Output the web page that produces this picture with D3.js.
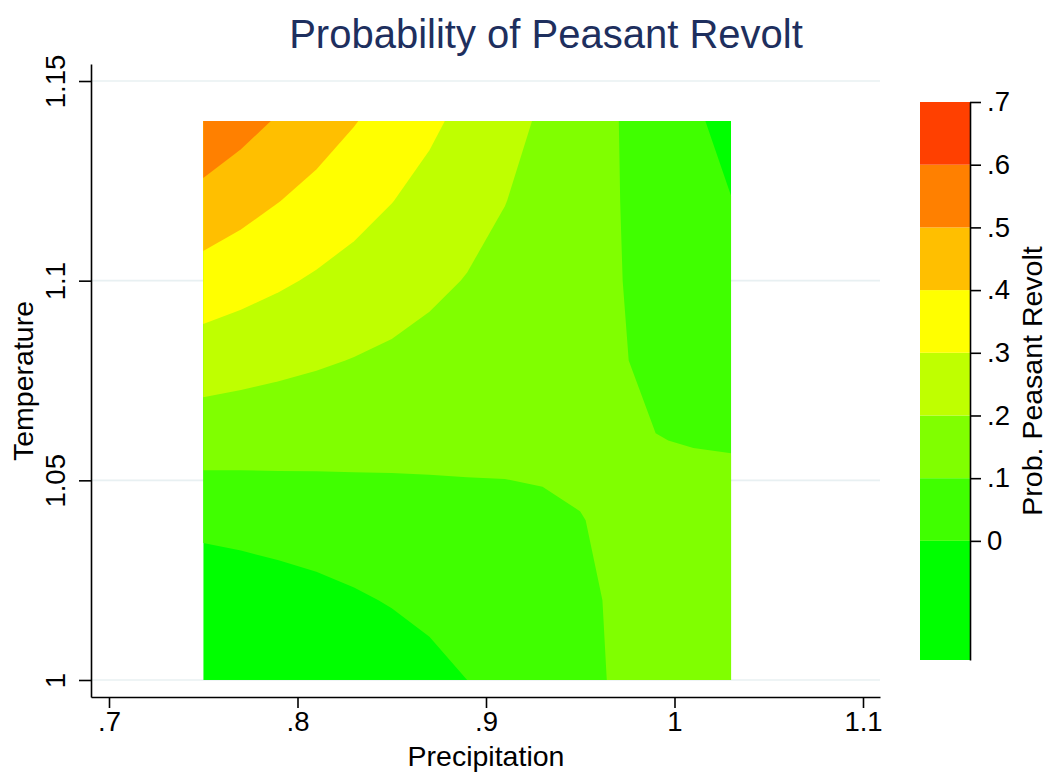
<!DOCTYPE html>
<html>
<head>
<meta charset="utf-8">
<script src="https://cdn.jsdelivr.net/npm/d3@7"></script>
<style>
  body { margin: 0; background: #fff; }
  text { font-family: "Liberation Sans", Arial, Helvetica, sans-serif; }
</style>
</head>
<body>
<div id="content"></div>
<script>
// grid the surface was evaluated on
const precip = [0.75, 0.77, 0.79, 0.81, 0.83, 0.85, 0.87, 0.89, 0.91, 0.93, 0.95, 0.97, 0.99, 1.01, 1.03];
const temp = [1.00, 1.02, 1.04, 1.06, 1.08, 1.10, 1.12, 1.14];

// predicted probability, one row per temperature (bottom row first)
const z100 = [-0.188, -0.161, -0.134, -0.107, -0.080, -0.053, -0.027, 0.000, 0.027, 0.054, 0.081, 0.108, 0.135, 0.161, 0.188];
const z102 = [-0.078, -0.062, -0.045, -0.028, -0.011, 0.006, 0.023, 0.039, 0.056, 0.073, 0.090, 0.107, 0.124, 0.140, 0.157];
const z104 = [0.031, 0.038, 0.045, 0.051, 0.058, 0.065, 0.072, 0.079, 0.085, 0.092, 0.099, 0.106, 0.112, 0.119, 0.126];
const z106 = [0.141, 0.137, 0.134, 0.131, 0.128, 0.124, 0.121, 0.118, 0.114, 0.111, 0.108, 0.105, 0.101, 0.098, 0.095];
const z108 = [0.250, 0.237, 0.223, 0.210, 0.197, 0.184, 0.170, 0.157, 0.144, 0.130, 0.117, 0.104, 0.090, 0.077, 0.064];
const z110 = [0.359, 0.336, 0.313, 0.289, 0.266, 0.243, 0.219, 0.196, 0.173, 0.149, 0.126, 0.103, 0.079, 0.056, 0.033];
const z112 = [0.469, 0.436, 0.402, 0.369, 0.335, 0.302, 0.269, 0.235, 0.202, 0.168, 0.135, 0.102, 0.068, 0.035, 0.002];
const z114 = [0.578, 0.535, 0.491, 0.448, 0.405, 0.361, 0.318, 0.274, 0.231, 0.188, 0.144, 0.101, 0.057, 0.014, -0.030];

const levels = [0, 0.1, 0.2, 0.3, 0.4, 0.5, 0.6, 0.7];
const bandColors = ["#00ff00", "#40ff00", "#80ff00", "#bfff00", "#ffff00", "#ffbf00", "#ff8000", "#ff4000"];
const zMin = -0.19;

const xTicks = [0.7, 0.8, 0.9, 1, 1.1];
const yTicks = [1, 1.05, 1.1, 1.15];

const width = 1049, height = 773;

function fmt(d) {
    let s = String(+d.toFixed(2));
    return s.replace(/^0\./, ".").replace(/^-0\./, "-.");
}

const svg = d3.select("#content").append("svg")
    .attr("width", width)
    .attr("height", height);

const x = d3.scaleLinear().domain([0.69045, 1.10902]).range([91, 880]);
const y = d3.scaleLinear().domain([0.99574, 1.15426]).range([697, 64]);

// light gridlines
svg.append("g")
    .selectAll("line")
    .data(yTicks)
    .enter()
    .append("line")
    .attr("x1", 91)
    .attr("x2", 880)
    .attr("y1", d => y(d))
    .attr("y2", d => y(d))
    .attr("stroke", "#e8f0f2")
    .attr("stroke-width", 1.6);

// contour fill
const zRows = [z100, z102, z104, z106, z108, z110, z112, z114];
const nx = precip.length, ny = temp.length;
const values = zRows.flat();
const contours = d3.contours()
    .size([nx, ny])
    .thresholds(levels.slice(0, -1))(values);

const gx = d3.scaleLinear().domain([0.5, nx - 0.5]).range([x(precip[0]), x(precip[nx - 1])]);
const gy = d3.scaleLinear().domain([0.5, ny - 0.5]).range([y(temp[0]), y(temp[ny - 1])]);
const proj = d3.geoTransform({
    point: function (px, py) { this.stream.point(gx(px), gy(py)); }
});
const path = d3.geoPath(proj);

const x0 = x(precip[0]), x1 = x(precip[nx - 1]);
const y0 = y(temp[ny - 1]), y1 = y(temp[0]);

svg.append("clipPath").attr("id", "clip")
    .append("rect")
    .attr("x", x0).attr("y", y0)
    .attr("width", x1 - x0).attr("height", y1 - y0);

const surf = svg.append("g").attr("clip-path", "url(#clip)");
surf.append("rect")
    .attr("x", x0).attr("y", y0)
    .attr("width", x1 - x0).attr("height", y1 - y0)
    .attr("fill", bandColors[0]);
surf.selectAll("path")
    .data(contours)
    .enter()
    .append("path")
    .attr("d", path)
    .attr("fill", (d, i) => bandColors[i + 1]);

// axes
const xAxis = d3.axisBottom(x).tickValues(xTicks).tickSize(11).tickSizeOuter(0).tickFormat(fmt);
const yAxis = d3.axisLeft(y).tickValues(yTicks).tickSize(12).tickSizeOuter(0).tickFormat(fmt);

const gxAxis = svg.append("g")
    .attr("transform", "translate(0,697)")
    .call(xAxis);
gxAxis.selectAll("text")
    .attr("y", 13)
    .attr("dy", "0.75em");

const gyAxis = svg.append("g")
    .attr("transform", "translate(91,0)")
    .call(yAxis);
gyAxis.selectAll("text")
    .attr("transform", "rotate(-90)")
    .attr("x", 0)
    .attr("y", -26)
    .attr("dy", 0)
    .style("text-anchor", "middle");

[gxAxis, gyAxis].forEach(g => {
    g.selectAll("path, line").attr("stroke", "#000").attr("stroke-width", 1.6);
    g.selectAll("text").attr("fill", "#000").style("font-size", "27.5px").style("font-family", "Liberation Sans, Arial, sans-serif");
});

// titles
svg.append("text")
    .attr("x", 546)
    .attr("y", 48)
    .style("text-anchor", "middle")
    .style("font-size", "40px")
    .attr("fill", "#1e2f5e")
    .text("Probability of Peasant Revolt");

svg.append("text")
    .attr("x", 486)
    .attr("y", 766)
    .style("text-anchor", "middle")
    .style("font-size", "28.5px")
    .text("Precipitation");

svg.append("text")
    .attr("transform", "translate(33,381) rotate(-90)")
    .style("text-anchor", "middle")
    .style("font-size", "28.5px")
    .text("Temperature");

// colour key
const cb = d3.scaleLinear().domain([zMin, 0.7]).range([660, 102]);
const bandLo = [zMin].concat(levels.slice(0, -1));
const key = svg.append("g");
key.selectAll("rect")
    .data(bandLo)
    .enter()
    .append("rect")
    .attr("x", 920)
    .attr("width", 50)
    .attr("y", (d, i) => cb(levels[i]))
    .attr("height", (d, i) => cb(d) - cb(levels[i]))
    .attr("fill", (d, i) => bandColors[i]);

const cAxis = d3.axisRight(cb).tickValues(levels).tickSize(11).tickSizeOuter(0).tickFormat(fmt);
const gcAxis = svg.append("g")
    .attr("transform", "translate(970,0)")
    .call(cAxis);
gcAxis.selectAll("path, line").attr("stroke", "#000").attr("stroke-width", 1.6);
gcAxis.selectAll("text")
    .attr("x", 17)
    .attr("fill", "#000")
    .style("font-size", "27.5px")
    .style("font-family", "Liberation Sans, Arial, sans-serif");

svg.append("text")
    .attr("transform", "translate(1042,381) rotate(-90)")
    .style("text-anchor", "middle")
    .style("font-size", "28.5px")
    .text("Prob. Peasant Revolt");
</script>
</body>
</html>
